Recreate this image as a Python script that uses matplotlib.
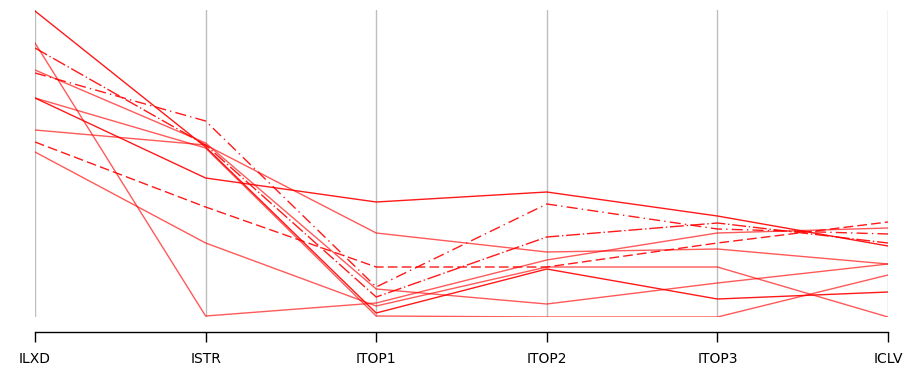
import matplotlib.pyplot as plt

# variables on the horizontal axis
variables = ["ILXD", "ISTR", "ITOP1", "ITOP2", "ITOP3", "ICLV"]

# each observation: value on each variable (common scale, 0 = bottom, 307 = top)
obs_a = [219, 139, 115, 125, 101, 71]
obs_b = [187, 172, 84, 65, 68, 53]
obs_c = [244, 196, 30, 113, 88, 83]
obs_d = [175, 110, 50, 50, 74, 95]
obs_e = [247, 174, 28, 13, 34, 53]
obs_f = [269, 172, 20, 80, 94, 74]
obs_g = [274, 1, 14, 57, 84, 89]
obs_h = [165, 74, 11, 50, 50, 0]
obs_i = [306, 170, 4, 48, 18, 25]
obs_j = [219, 169, 1, 0, 0, 42]

observations = [obs_a, obs_b, obs_c, obs_d, obs_e,
                obs_f, obs_g, obs_h, obs_i, obs_j]
line_styles = ["-", "-", (0, (8, 3, 1, 3)), (0, (7, 3)), "-",
               (0, (10, 2, 1, 2)), "-", "-", "-", "-"]
line_alpha = [0.9, 0.65, 0.9, 0.9, 0.65, 0.9, 0.65, 0.65, 0.9, 0.65]

fig = plt.figure(figsize=(9.11, 3.71), dpi=100)
ax = fig.add_axes([35 / 911, 54 / 371, 853 / 911, 307 / 371])

xs = list(range(len(variables)))

# gray vertical axis for each variable
for x in xs:
    ax.axvline(x, color="#bebebe", lw=1.0, zorder=1)

for vals, ls, a in zip(observations, line_styles, line_alpha):
    ax.plot(xs, vals, color="red", lw=1.0, ls=ls, alpha=a, zorder=2)

ax.set_xlim(0, len(variables) - 1)
ax.set_ylim(0, 307)

ax.set_xticks(xs)
ax.set_xticklabels(variables, fontsize=18,
                   family=["Liberation Sans Narrow", "Liberation Sans"])
ax.set_yticks([])
for side in ["top", "right", "left"]:
    ax.spines[side].set_visible(False)
ax.spines["bottom"].set_position(("outward", 11))
ax.spines["bottom"].set_bounds(0, len(variables) - 1)
ax.spines["bottom"].set_linewidth(1.0)
ax.tick_params(axis="x", direction="out", length=7, width=1.0, pad=7)

fig.savefig("out.png", dpi=100)
